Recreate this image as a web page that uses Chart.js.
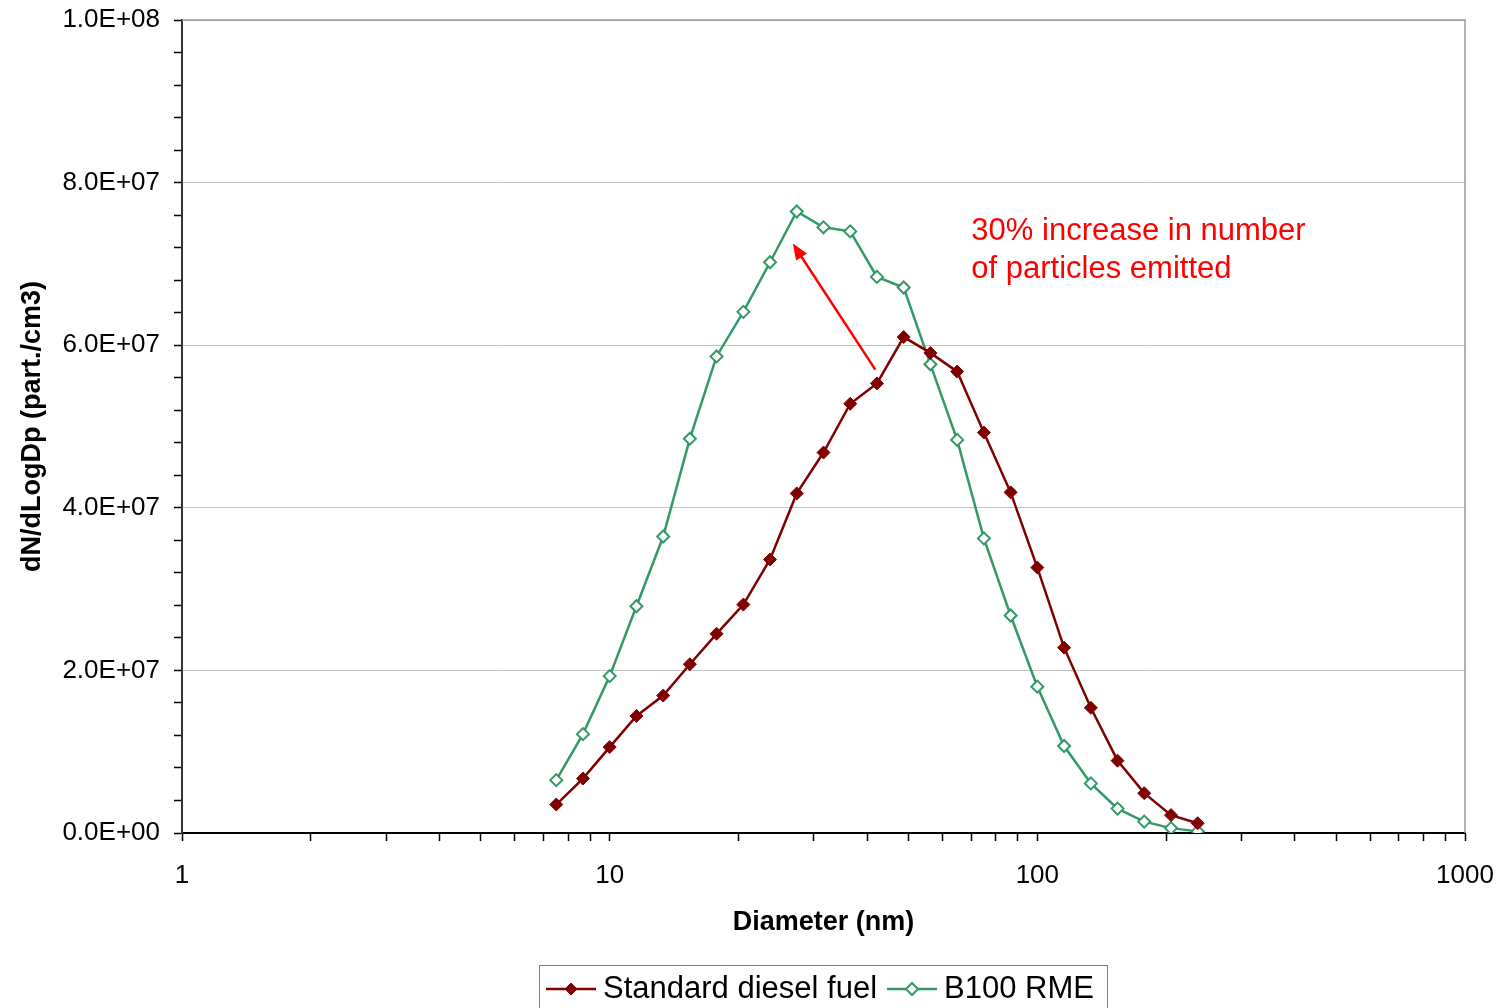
<!DOCTYPE html>
<html>
<head>
<meta charset="utf-8">
<script src="https://cdn.jsdelivr.net/npm/chart.js@4/dist/chart.umd.min.js"></script>
<style>
  html, body { margin: 0; padding: 0; background: #fff; }
  canvas { display: block; }
</style>
</head>
<body>
<canvas id="chart" width="1499" height="1008"></canvas>
<script>
// --- data ---
const diameters = [7.50, 8.66, 10.0, 11.55, 13.34, 15.40, 17.78, 20.54, 23.71, 27.38, 31.62, 36.52, 42.17,
                   48.70, 56.23, 64.94, 74.99, 86.60, 100.0, 115.5, 133.4, 154.0, 177.8, 205.4, 237.1];
const dieselValues = [3.5e6, 6.7e6, 1.057e7, 1.44e7, 1.69e7, 2.076e7, 2.45e7, 2.81e7, 3.364e7, 4.177e7, 4.68e7, 5.28e7, 5.53e7,
                      6.10e7, 5.905e7, 5.675e7, 4.925e7, 4.19e7, 3.265e7, 2.28e7, 1.54e7, 8.9e6, 4.9e6, 2.2e6, 1.2e6];
const b100Values = [6.5e6, 1.216e7, 1.93e7, 2.789e7, 3.647e7, 4.85e7, 5.862e7, 6.41e7, 7.02e7, 7.645e7, 7.45e7, 7.40e7, 6.84e7,
                    6.71e7, 5.765e7, 4.835e7, 3.624e7, 2.675e7, 1.80e7, 1.07e7, 6.1e6, 3.0e6, 1.4e6, 6.0e5, 2.0e5];
const seriesNames = ['Standard diesel fuel', 'B100 RME'];

// tick positions
const xTicks = [1, 2, 3, 4, 5, 6, 7, 8, 9, 10, 20, 30, 40, 50, 60, 70, 80, 90,
                100, 200, 300, 400, 500, 600, 700, 800, 900, 1000];
const xLabelled = [1, 10, 100, 1000];
const yTicks = [0, 4e6, 8e6, 1.2e7, 1.6e7, 2e7, 2.4e7, 2.8e7, 3.2e7, 3.6e7, 4e7, 4.4e7, 4.8e7, 5.2e7, 5.6e7,
                6e7, 6.4e7, 6.8e7, 7.2e7, 7.6e7, 8e7, 8.4e7, 8.8e7, 9.2e7, 9.6e7, 1e8];
const yLabelled = [0, 2e7, 4e7, 6e7, 8e7, 1e8];

// annotation (data coordinates)
const arrowFrom = { x: 41.8, y: 5.70e7 };
const arrowTo = { x: 26.8, y: 7.25e7 };
const noteAt = { x: 70.1, y: 7.30e7 };
const noteLines = ['30% increase in number', 'of particles emitted'];

const FONT = '"Liberation Sans", Arial, sans-serif';
const DIESEL = '#800000';
const GREEN = '#339966';

function sci(v) {
  if (v === 0) return '0.0E+00';
  const e = Math.floor(Math.log10(v));
  const m = v / Math.pow(10, e);
  return m.toFixed(1) + 'E+' + String(e).padStart(2, '0');
}

function diamond(ctx, x, y, r, fill, stroke, lw) {
  ctx.beginPath();
  ctx.moveTo(x, y - r);
  ctx.lineTo(x + r, y);
  ctx.lineTo(x, y + r);
  ctx.lineTo(x - r, y);
  ctx.closePath();
  ctx.fillStyle = fill;
  ctx.fill();
  ctx.lineWidth = lw;
  ctx.strokeStyle = stroke;
  ctx.stroke();
}

// gray frame on top/right of plot area
const framePlugin = {
  id: 'frame',
  beforeDatasetsDraw(chart) {
    const { ctx, chartArea: a } = chart;
    ctx.save();
    ctx.strokeStyle = '#9a9a9a';
    ctx.lineWidth = 1.5;
    ctx.beginPath();
    ctx.moveTo(a.left, a.top);
    ctx.lineTo(a.right, a.top);
    ctx.lineTo(a.right, a.bottom);
    ctx.stroke();
    ctx.restore();
  }
};

// red arrow and note
const notePlugin = {
  id: 'note',
  afterDatasetsDraw(chart) {
    const { ctx } = chart;
    const xs = chart.scales.x, ys = chart.scales.y;
    const x1 = xs.getPixelForValue(arrowFrom.x), y1 = ys.getPixelForValue(arrowFrom.y);
    const x2 = xs.getPixelForValue(arrowTo.x), y2 = ys.getPixelForValue(arrowTo.y);
    const ang = Math.atan2(y2 - y1, x2 - x1);
    const hl = 16, hw = 6.5;
    ctx.save();
    ctx.strokeStyle = '#ff0000';
    ctx.fillStyle = '#ff0000';
    ctx.lineWidth = 2.5;
    ctx.beginPath();
    ctx.moveTo(x1, y1);
    ctx.lineTo(x2 - Math.cos(ang) * hl * 0.8, y2 - Math.sin(ang) * hl * 0.8);
    ctx.stroke();
    ctx.beginPath();
    ctx.moveTo(x2, y2);
    ctx.lineTo(x2 - Math.cos(ang) * hl + Math.sin(ang) * hw, y2 - Math.sin(ang) * hl - Math.cos(ang) * hw);
    ctx.lineTo(x2 - Math.cos(ang) * hl - Math.sin(ang) * hw, y2 - Math.sin(ang) * hl + Math.cos(ang) * hw);
    ctx.closePath();
    ctx.fill();

    const tx = xs.getPixelForValue(noteAt.x), ty = ys.getPixelForValue(noteAt.y);
    ctx.font = '31px ' + FONT;
    ctx.textAlign = 'left';
    ctx.textBaseline = 'alphabetic';
    noteLines.forEach((line, i) => ctx.fillText(line, tx, ty + i * 38));
    ctx.restore();
  }
};

// Excel-style legend box under the axis title
const legendPlugin = {
  id: 'boxLegend',
  afterDraw(chart) {
    const { ctx } = chart;
    const left = 539, top = 965, w = 568, h = 60;
    const cy = 989;
    ctx.save();
    ctx.strokeStyle = '#808080';
    ctx.lineWidth = 1;
    ctx.strokeRect(left + 0.5, top + 0.5, w, h);
    ctx.font = '31px ' + FONT;
    ctx.textBaseline = 'middle';
    ctx.textAlign = 'left';

    const items = [
      { name: seriesNames[0], color: DIESEL, fill: DIESEL, lw: 1 },
      { name: seriesNames[1], color: GREEN, fill: '#fff', lw: 2 }
    ];
    let x = left + 7;
    items.forEach(it => {
      ctx.strokeStyle = it.color;
      ctx.lineWidth = 2.5;
      ctx.beginPath();
      ctx.moveTo(x, cy);
      ctx.lineTo(x + 50, cy);
      ctx.stroke();
      diamond(ctx, x + 25, cy, 6, it.fill, it.color, it.lw);
      ctx.fillStyle = '#000';
      ctx.fillText(it.name, x + 57, cy);
      x += 57 + ctx.measureText(it.name).width + 10;
    });
    ctx.restore();
  }
};

const ctx = document.getElementById('chart').getContext('2d');
new Chart(ctx, {
  type: 'line',
  data: {
    datasets: [
      {
        label: seriesNames[0],
        data: diameters.map((d, i) => ({ x: d, y: dieselValues[i] })),
        borderColor: DIESEL,
        backgroundColor: DIESEL,
        borderWidth: 2.5,
        pointStyle: 'rectRot',
        pointRadius: 6.5,
        pointBorderWidth: 1,
        pointBackgroundColor: DIESEL,
        pointBorderColor: DIESEL,
        tension: 0
      },
      {
        label: seriesNames[1],
        data: diameters.map((d, i) => ({ x: d, y: b100Values[i] })),
        borderColor: GREEN,
        backgroundColor: '#fff',
        borderWidth: 2.5,
        pointStyle: 'rectRot',
        pointRadius: 6,
        pointBorderWidth: 2,
        pointBackgroundColor: '#fff',
        pointBorderColor: GREEN,
        tension: 0
      }
    ]
  },
  options: {
    responsive: false,
    animation: false,
    devicePixelRatio: 1,
    layout: { padding: { left: 0, top: 20, right: 34, bottom: 68 } },
    plugins: {
      legend: { display: false },
      tooltip: { enabled: false }
    },
    scales: {
      x: {
        type: 'logarithmic',
        min: 1,
        max: 1000,
        afterBuildTicks: s => { s.ticks = xTicks.map(v => ({ value: v })); },
        afterFit: s => { s.height = 107; s.paddingLeft = 0; s.paddingRight = 0; },
        grid: { drawOnChartArea: false, drawTicks: true, tickLength: 8, tickColor: '#000', tickWidth: 1.5 },
        border: { color: '#000', width: 2 },
        ticks: {
          autoSkip: false,
          maxRotation: 0,
          padding: 19,
          color: '#000',
          font: { family: FONT, size: 26 },
          callback: v => xLabelled.includes(v) ? String(v) : ''
        },
        title: {
          display: true,
          text: 'Diameter (nm)',
          color: '#000',
          font: { family: FONT, size: 27, weight: 'bold' },
          padding: { top: 0, bottom: 1 }
        }
      },
      y: {
        type: 'linear',
        min: 0,
        max: 1e8,
        afterBuildTicks: s => { s.ticks = yTicks.map(v => ({ value: v })); },
        afterFit: s => { s.width = 182; s.paddingTop = 0; s.paddingBottom = 0; },
        grid: {
          drawTicks: true,
          tickLength: 8,
          tickColor: '#000',
          tickWidth: 1.5,
          lineWidth: 1,
          color: c => (c.tick && yLabelled.includes(c.tick.value) && c.tick.value !== 0) ? '#c4c4c4' : 'rgba(0,0,0,0)'
        },
        border: { color: '#333', width: 2 },
        ticks: {
          autoSkip: false,
          padding: 14,
          color: '#000',
          font: { family: FONT, size: 26 },
          callback: v => yLabelled.includes(v) ? sci(v) : ''
        },
        title: {
          display: true,
          text: 'dN/dLogDp (part./cm3)',
          color: '#000',
          font: { family: FONT, size: 27, weight: 'bold' },
          padding: { top: 16, bottom: 0 }
        }
      }
    }
  },
  plugins: [framePlugin, notePlugin, legendPlugin]
});
</script>
</body>
</html>
